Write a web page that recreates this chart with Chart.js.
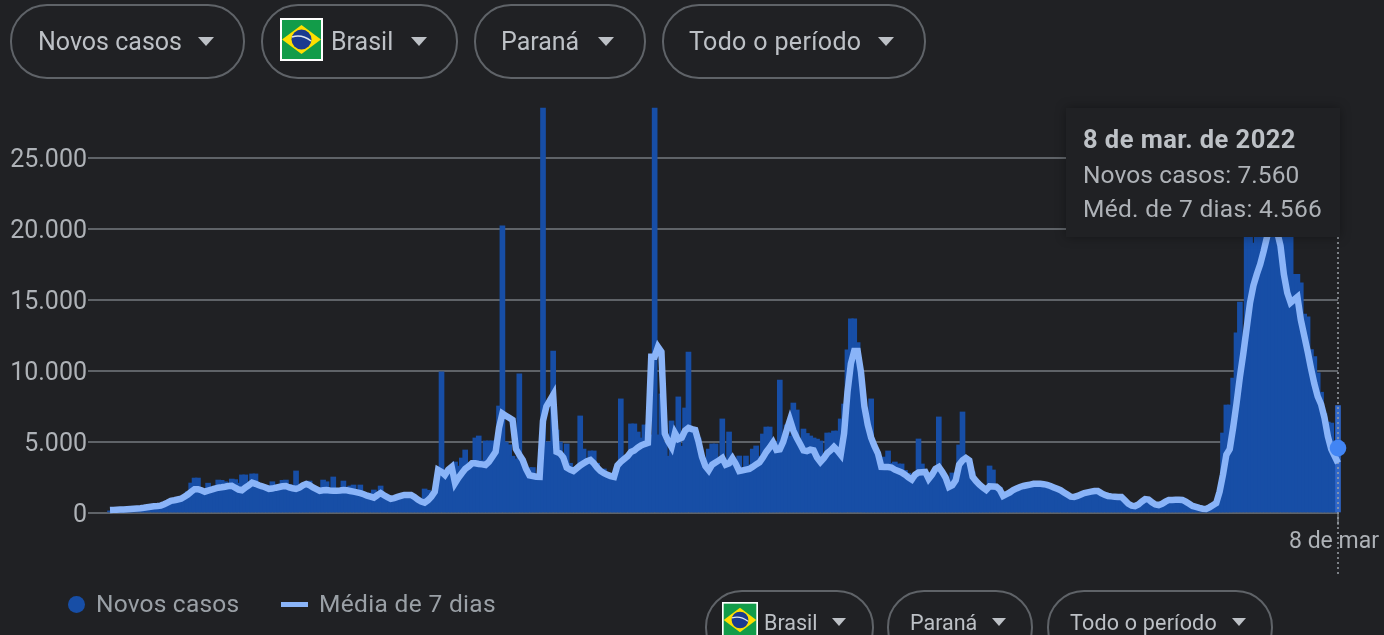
<!DOCTYPE html>
<html lang="pt-BR">
<head>
<meta charset="utf-8">
<title>Novos casos - Paraná</title>
<script src="https://cdn.jsdelivr.net/npm/chart.js@4"></script>
<style>
  html, body { margin: 0; padding: 0; width: 1384px; height: 635px; overflow: hidden; background: #202124; }
  body { position: relative; font-family: Roboto, sans-serif; color: #bdc1c6; }
  canvas { position: absolute; left: 0; top: 0; }
  .chip { position: absolute; box-sizing: border-box; border: 2px solid #5f6368; border-radius: 37px; }
  .chip span, .chip svg, .chip i { position: absolute; }
  .chip span { white-space: nowrap; line-height: 1; }
  .chip i { width: 0; height: 0; border-left: 8.5px solid transparent; border-right: 8.5px solid transparent; border-top: 9px solid #bdc1c6; }
  .small i { border-left-width: 7.5px; border-right-width: 7.5px; border-top-width: 8px; }
  .leg { position: absolute; white-space: nowrap; line-height: 1; font-size: 24.5px; letter-spacing: .2px; color: #9aa0a6; }
  #tip { position: absolute; left: 1066px; top: 108px; width: 274px; height: 129px; background: #202124; box-shadow: 0 0 10px rgba(0,0,0,.35); }
  #tip div { position: absolute; left: 17px; white-space: nowrap; line-height: 1; font-size: 24.5px; letter-spacing: .2px; color: #aeb2b7; }
  #tip .t { font-size: 25.5px; letter-spacing: .45px; font-weight: 700; color: #bdc1c6; }
</style>
</head>
<body>
<canvas id="grafico" width="1384" height="635"></canvas>

<div class="chip" style="left:10px;top:4px;width:235px;height:75px"><span style="left:26px;top:23px;font-size:25px">Novos casos</span><i style="left:186px;top:31px"></i></div>
<div class="chip" style="left:261px;top:4px;width:197px;height:75px">
  <svg style="left:17px;top:12px" width="43" height="43" viewBox="0 0 43 43"><rect width="43" height="43" fill="#fff"/><rect x="2" y="2" width="39" height="39" fill="#129c49"/><path d="M2 21.5 21.5 7 41 21.5 21.5 36z" fill="#fedf00"/><circle cx="21.5" cy="21.5" r="10" fill="#1b3a8f"/><path d="M12 19q10-3 19 4" stroke="#dfe6ee" stroke-width="1.5" fill="none"/></svg>
  <span style="left:68px;top:23px;font-size:25px">Brasil</span><i style="left:148px;top:31px"></i></div>
<div class="chip" style="left:474px;top:4px;width:172px;height:75px"><span style="left:25px;top:23px;font-size:25px">Paraná</span><i style="left:122px;top:31px"></i></div>
<div class="chip" style="left:662px;top:4px;width:264px;height:75px"><span style="left:25px;top:23px;font-size:25px;letter-spacing:.35px">Todo o período</span><i style="left:214px;top:31px"></i></div>

<div class="chip small" style="left:705px;top:590px;width:169px;height:75px">
  <svg style="left:15px;top:10px" width="36" height="36" viewBox="0 0 43 43"><rect width="43" height="43" fill="#fff"/><rect x="2" y="2" width="39" height="39" fill="#129c49"/><path d="M2 21.5 21.5 7 41 21.5 21.5 36z" fill="#fedf00"/><circle cx="21.5" cy="21.5" r="10" fill="#1b3a8f"/><path d="M12 19q10-3 19 4" stroke="#dfe6ee" stroke-width="1.5" fill="none"/></svg>
  <span style="left:57px;top:20px;font-size:21.5px">Brasil</span><i style="left:125px;top:26px"></i></div>
<div class="chip small" style="left:887px;top:590px;width:146px;height:75px"><span style="left:21px;top:20px;font-size:21.5px">Paraná</span><i style="left:103px;top:26px"></i></div>
<div class="chip small" style="left:1047px;top:590px;width:226px;height:75px"><span style="left:21px;top:20px;font-size:21.5px;letter-spacing:.2px">Todo o período</span><i style="left:183px;top:26px"></i></div>

<div style="position:absolute;left:68px;top:596px;width:17px;height:17px;border-radius:50%;background:#174ea6"></div>
<div class="leg" id="legCasos" style="left:96px;top:592px"></div>
<div style="position:absolute;left:281px;top:602px;width:27px;height:5px;background:#8ab4f8"></div>
<div class="leg" id="legMedia" style="left:319px;top:592px;letter-spacing:.33px"></div>

<div id="tip">
  <div class="t" style="top:19px">8 de mar. de 2022</div>
  <div style="top:55px;letter-spacing:.1px">Novos casos: 7.560</div>
  <div style="top:89px;letter-spacing:.3px">Méd. de 7 dias: 4.566</div>
</div>

<script>
// um valor a cada 2 dias, do inicio da serie ate 8 de mar. de 2022
const casos = [
  150,160,170,190,200,220,230,250,270,290,
  370,410,440,470,490,520,620,730,860,900,
  950,1000,1150,1500,2110,2460,2460,1700,1600,2100,
  1800,1900,2320,2300,2200,2100,2390,2350,2100,2680,
  2680,2000,2750,2750,2000,1900,1900,1800,2200,1900,
  1800,2300,2320,2000,1900,2960,1900,1950,2000,2250,
  1900,1700,1500,2320,2200,1700,2535,1700,1600,2250,
  1700,1900,1970,1500,1970,1400,1300,1400,1620,1150,
  1900,1250,1120,1000,1050,1130,1200,1270,1270,1270,
  1150,1000,800,1690,1600,1300,1700,2700,9930,3000,
  3100,3150,3590,3300,3870,4435,3300,3500,5280,5420,
  3700,5070,5070,5070,5070,7530,20200,5000,4800,4000,
  3800,9790,3800,3000,3200,3200,2500,2500,28500,5000,
  5000,11400,5840,5000,4200,4860,3500,3000,3000,6830,
  4500,3700,4365,4365,3500,3000,3100,2800,2700,2600,
  3000,8030,3600,3900,6270,6270,5700,5280,6200,6200,
  5500,28500,5500,8380,5000,4000,6480,5000,8170,4700,
  7390,11330,5900,5800,5280,4000,3200,4500,4860,4860,
  3900,6620,3700,5700,3800,3400,4010,3000,4010,3400,
  4500,4720,4000,5560,6050,6050,5000,5000,9360,5000,
  6200,5400,7740,7250,4900,5910,5600,5420,5280,5200,
  5070,3700,5630,5630,5770,5770,6620,7670,11480,13660,
  13660,12000,9000,6500,5700,8030,4800,4300,3200,3940,
  4365,3500,3590,3450,3450,3000,2800,2600,2300,5210,
  3450,3000,2800,2700,3000,6760,2800,2500,2000,2820,
  2100,4790,7110,3900,3800,2900,2100,1900,1700,1600,
  3310,3030,1830,1800,1200,1300,1450,1600,1700,1830,
  1900,1950,2000,2050,2050,2050,2030,1980,1900,1800,
  1700,1600,1450,1300,1150,1130,1200,1300,1400,1450,
  1500,1550,1550,1400,1280,1200,1170,1150,1130,1130,
  900,650,520,490,600,800,980,950,750,600,
  560,650,800,920,920,930,930,920,800,650,
  500,430,360,300,280,400,550,700,1500,5630,
  7600,7600,9500,12670,14850,12400,20000,20000,19000,22000,
  23000,22000,24000,23000,25000,22000,21000,20500,20000,20000,
  16800,16800,16200,14000,13800,11500,11000,9860,8500,7000,
  6400,6330,4500,7560
];
const media7 = [
  210,220,230,240,250,265,280,300,320,340,
  370,410,440,470,490,520,620,730,860,900,
  950,1000,1150,1300,1500,1680,1680,1600,1500,1580,
  1650,1720,1780,1810,1850,1900,1920,1780,1650,1600,
  1780,1950,2130,2050,1950,1880,1800,1700,1720,1780,
  1830,1880,1900,1800,1740,1690,1780,1950,2040,1950,
  1800,1680,1560,1600,1620,1580,1570,1560,1580,1620,
  1600,1550,1500,1450,1400,1320,1220,1150,1080,1250,
  1400,1250,1120,1000,1050,1130,1200,1270,1270,1270,
  1130,950,800,730,900,1150,1500,3030,2900,2680,
  3050,3240,2100,2480,2800,3100,3280,3500,3500,3450,
  3420,3380,3600,3950,4300,6000,7000,6850,6700,6550,
  4500,4100,3730,3100,2650,2600,2550,2540,6500,7500,
  7900,8310,4300,4200,3900,3200,3050,2960,3150,3350,
  3500,3650,3730,3500,3200,2950,2800,2700,2600,2540,
  3350,3600,3800,4000,4300,4400,4600,4750,4850,4930,
  11000,11000,11690,11350,5600,5050,4650,5630,5200,5300,
  5800,5985,5900,5840,5000,3950,3300,3000,3400,3550,
  3700,3870,3400,3500,3850,3450,2950,3000,3050,3100,
  3250,3420,3560,3900,4300,4600,4950,4440,4480,5000,
  5800,6550,5800,5300,4850,4400,4350,4450,4400,3900,
  3590,3850,4200,4400,4650,4400,4100,5600,8500,10500,
  11400,11400,9900,7500,6200,5300,4700,4200,3250,3240,
  3240,3200,3050,2950,2850,2700,2500,2350,2700,2850,
  2870,2890,2400,2700,3100,3240,2900,2500,1830,1950,
  2300,3400,3700,3870,3700,2550,2250,2000,1800,1620,
  1880,1870,1850,1650,1200,1320,1450,1620,1730,1830,
  1900,1950,2000,2050,2050,2050,2030,1980,1900,1800,
  1700,1600,1450,1300,1150,1130,1200,1300,1400,1450,
  1500,1550,1550,1400,1280,1200,1170,1150,1130,1130,
  900,650,520,490,600,800,980,950,750,600,
  560,650,800,920,920,930,930,920,800,650,
  500,430,360,300,280,400,550,700,1500,2700,
  4100,4500,6000,7700,9580,11200,13000,14800,16000,16800,
  17500,18400,19400,20300,20200,19800,18800,16800,15500,14800,
  15000,15200,13600,12500,11400,10200,9100,8200,7650,6700,
  5400,4500,4000,3520
];
const yTicks = [0, 5000, 10000, 15000, 20000, 25000];
const yMax = 28500;
const xLabel = '8 de mar';
const nomeCasos = 'Novos casos';
const nomeMedia = 'Média de 7 dias';
const mediaAtual = 4566;

const ultimoDia = (casos.length - 1) * 2;
const pontos = arr => arr.map((v, i) => ({ x: i * 2, y: v }));

document.getElementById('legCasos').textContent = nomeCasos;
document.getElementById('legMedia').textContent = nomeMedia;

// linha pontilhada vertical do dia selecionado, por cima das barras e sob a media
const crosshair = {
  id: 'crosshair',
  afterDatasetDraw(chart, args) {
    if (args.index !== 2) return;
    const c = chart.ctx;
    const x = chart.scales.x.getPixelForValue(ultimoDia);
    c.save();
    c.strokeStyle = '#9aa0a6';
    c.lineWidth = 1.5;
    c.setLineDash([2, 3]);
    c.beginPath();
    c.moveTo(x, 237);
    c.lineTo(x, 574);
    c.stroke();
    c.restore();
  }
};

new Chart(document.getElementById('grafico'), {
  type: 'bar',
  data: {
    datasets: [
      { type: 'line', label: 'ponto', data: [{ x: ultimoDia, y: mediaAtual }], order: 0, pointRadius: 8.3, pointBackgroundColor: '#4285f4', pointBorderWidth: 0, clip: false },
      { type: 'line', label: nomeMedia, data: pontos(media7), order: 1, borderColor: '#8ab4f8', borderWidth: 6.5, pointRadius: 0, tension: 0, clip: false },
      {
        label: nomeCasos,
        data: pontos(casos),
        order: 2,
        barThickness: 5,
        borderWidth: 0,
        clip: false,
        backgroundColor: ctx => ctx.dataIndex === casos.length - 1 ? '#2f66c8' : '#174ea6'
      }
    ]
  },
  options: {
    responsive: false,
    animation: false,
    events: [],
    layout: { padding: { top: 108, right: 46, bottom: 62, left: 0 } },
    plugins: { legend: { display: false }, tooltip: { enabled: false } },
    scales: {
      x: {
        type: 'linear',
        offset: false,
        min: -13,
        max: ultimoDia,
        afterFit(s) { s.height = 60; s.paddingLeft = 0; s.paddingRight = 0; },
        afterBuildTicks(s) { s.ticks = [{ value: ultimoDia }]; },
        grid: { offset: false, drawOnChartArea: false, tickLength: 12, color: '#5f6368', lineWidth: 2 },
        border: { display: false },
        ticks: {
          autoSkip: false,
          maxRotation: 0,
          padding: 3,
          labelOffset: -4,
          color: '#aeb2b7',
          font: { family: 'Roboto', size: 23 },
          callback: () => xLabel
        }
      },
      y: {
        min: 0,
        max: yMax,
        afterFit(s) { s.width = 88; },
        afterBuildTicks(s) { s.ticks = yTicks.map(v => ({ value: v })); },
        grid: { color: '#5f6368', lineWidth: 2, drawTicks: false },
        border: { display: false },
        ticks: {
          padding: 1,
          labelOffset: 3,
          color: '#aeb2b7',
          font: { family: 'Roboto', size: 25 },
          callback: v => String(v).replace(/\B(?=(\d{3})+$)/g, '.')
        }
      }
    }
  },
  plugins: [crosshair]
});
</script>
</body>
</html>
